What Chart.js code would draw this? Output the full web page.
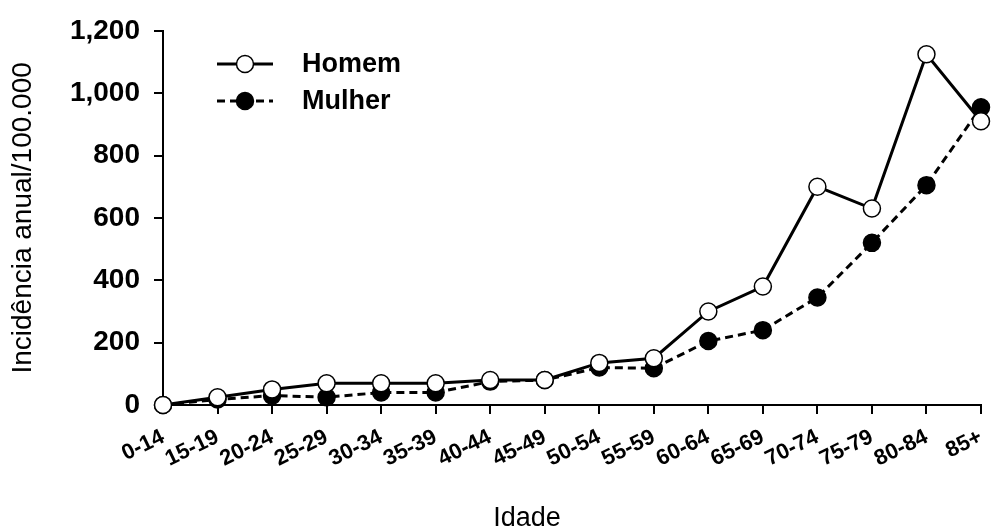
<!DOCTYPE html>
<html>
<head>
<meta charset="utf-8">
<script src="https://cdn.jsdelivr.net/npm/chart.js@4"></script>
<style>
  html, body { margin: 0; padding: 0; background: #fff; }
  #wrap { width: 991px; height: 531px; position: relative; }
</style>
</head>
<body>
<div id="wrap"><canvas id="chart" width="991" height="531"></canvas></div>
<script>
const ageGroups = ["0-14", "15-19", "20-24", "25-29", "30-34", "35-39", "40-44", "45-49",
  "50-54", "55-59", "60-64", "65-69", "70-74", "75-79", "80-84", "85+"];
const homemValues = [0, 25, 50, 70, 70, 70, 80, 80, 135, 150, 300, 380, 700, 630, 1125, 910];
const mulherValues = [0, 18, 30, 25, 40, 40, 75, 80, 120, 118, 205, 240, 345, 520, 705, 955];
const seriesNames = ["Homem", "Mulher"];
const yTicks = [0, 200, 400, 600, 800, 1000, 1200];

const FONT = "'Liberation Sans', Arial, sans-serif";

// legenda desenhada à mão: linha + marcador + texto
const legendPlugin = {
  id: "lineLegend",
  afterDraw(chart) {
    const ctx = chart.ctx;
    const rows = [{ y: 64, ds: chart.data.datasets[0] }, { y: 101, ds: chart.data.datasets[1] }];
    ctx.save();
    rows.forEach(r => {
      ctx.strokeStyle = "#000";
      ctx.lineWidth = 3;
      ctx.setLineDash(r.ds.borderDash || []);
      ctx.beginPath();
      ctx.moveTo(217, r.y);
      ctx.lineTo(273, r.y);
      ctx.stroke();
      ctx.setLineDash([]);
      ctx.beginPath();
      ctx.arc(245, r.y, 8.5, 0, Math.PI * 2);
      ctx.fillStyle = r.ds.pointBackgroundColor;
      ctx.fill();
      ctx.lineWidth = 1.5;
      ctx.stroke();
      ctx.fillStyle = "#000";
      ctx.font = "bold 27px " + FONT;
      ctx.textAlign = "left";
      ctx.textBaseline = "middle";
      ctx.fillText(r.ds.label, 302, r.y + 1);
    });
    // título do eixo x
    ctx.font = "27px " + FONT;
    ctx.textAlign = "center";
    ctx.textBaseline = "middle";
    ctx.fillText("Idade", 527, 519);
    ctx.restore();
  }
};

new Chart(document.getElementById("chart"), {
  type: "line",
  data: {
    labels: ageGroups,
    datasets: [
      {
        label: seriesNames[0],
        data: homemValues,
        borderColor: "#000",
        borderWidth: 3,
        pointRadius: 8.5,
        pointBorderWidth: 1.5,
        pointBackgroundColor: "#fff",
        pointBorderColor: "#000",
        tension: 0,
        clip: false
      },
      {
        label: seriesNames[1],
        data: mulherValues,
        borderColor: "#000",
        borderWidth: 3,
        borderDash: [8, 5],
        pointRadius: 8.5,
        pointBorderWidth: 1.5,
        pointBackgroundColor: "#000",
        pointBorderColor: "#000",
        tension: 0,
        clip: false
      }
    ]
  },
  options: {
    responsive: false,
    animation: false,
    layout: { padding: { top: 30, right: 10, left: 0, bottom: 0 } },
    plugins: {
      legend: { display: false },
      tooltip: { enabled: false }
    },
    scales: {
      x: {
        offset: false,
        grid: { display: true, drawOnChartArea: false, drawTicks: true, tickLength: 9, color: "#000", lineWidth: 2, offset: false },
        border: { color: "#000", width: 2 },
        ticks: {
          color: "#000",
          font: { family: FONT, size: 22, weight: "bold" },
          minRotation: 26,
          maxRotation: 26,
          autoSkip: false,
          padding: 10
        },
        afterFit(scale) {
          scale.height = 126;
          scale.paddingRight = 0;
          scale.paddingLeft = 0;
        }
      },
      y: {
        min: 0,
        max: 1200,
        afterBuildTicks(scale) { scale.ticks = yTicks.map(v => ({ value: v })); },
        grid: { display: true, drawOnChartArea: false, drawTicks: true, tickLength: 9, color: "#000", lineWidth: 2 },
        border: { color: "#000", width: 2 },
        ticks: {
          color: "#000",
          font: { family: FONT, size: 28, weight: "bold" },
          padding: 14,
          callback: v => v.toLocaleString("en-US")
        },
        title: {
          display: true,
          text: "Incidência anual/100.000",
          color: "#000",
          font: { family: FONT, size: 28 },
          padding: { top: 6, bottom: 0 }
        },
        afterFit(scale) { scale.width = 163; }
      }
    }
  },
  plugins: [legendPlugin]
});
</script>
</body>
</html>
